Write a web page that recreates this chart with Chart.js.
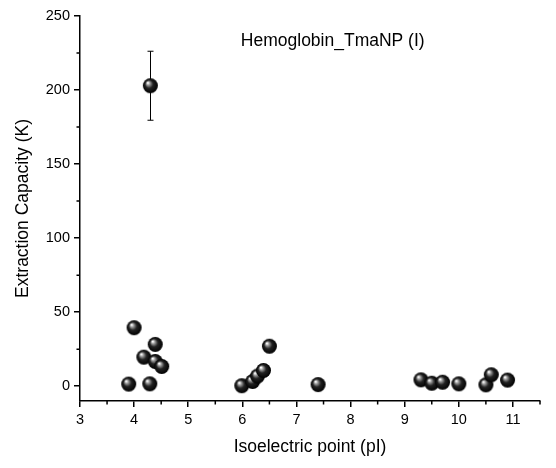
<!DOCTYPE html>
<html>
<head>
<meta charset="utf-8">
<script src="https://cdn.jsdelivr.net/npm/chart.js@4"></script>
<style>
    html, body { margin: 0; padding: 0; background: #fff; }
    #wrap { width: 556px; height: 468px; }
</style>
</head>
<body>
<div id="wrap"><canvas id="pIChart" width="556" height="468"></canvas></div>
<script>
// values
const pI = [4.3, 4.0, 4.39, 4.18, 4.39, 4.51, 3.9, 4.29, 5.99, 6.19, 6.28, 6.39, 6.5, 7.4,
            9.3, 9.5, 9.7, 10.0, 10.5, 10.6, 10.9];
const capacity = [202.9, 39.5, 28.2, 19.6, 16.7, 13.3, 1.4, 1.6, 0.3, 3.2, 6.8, 10.6, 27, 1.1,
                  4.3, 2.0, 2.7, 1.6, 0.9, 7.7, 4.1];
const capacityErr = [23.3, 0, 0, 0, 0, 0, 0, 0, 0, 0, 0, 0, 0, 0,
                     0, 0, 0, 0, 0, 0, 0];
const xTicks = [3, 4, 5, 6, 7, 8, 9, 10, 11];
const yTicks = [0, 50, 100, 150, 200, 250];
const chartLabel = 'Hemoglobin_TmaNP (I)';
const labelAt = { x: 7.67, y: 232.7 };

const fontName = '"Liberation Sans", Arial, sans-serif';

// shaded ball marker
function makeBall(r) {
    const c = document.createElement('canvas');
    c.width = c.height = Math.ceil(r * 2) + 2;
    const g = c.getContext('2d');
    const cx = c.width / 2, cy = c.height / 2;
    const grad = g.createRadialGradient(cx - r * 0.35, cy - r * 0.4, 0.5, cx, cy, r);
    grad.addColorStop(0, '#ffffff');
    grad.addColorStop(0.18, '#a0a0a0');
    grad.addColorStop(0.5, '#222222');
    grad.addColorStop(1, '#000000');
    g.fillStyle = grad;
    g.beginPath();
    g.arc(cx, cy, r, 0, Math.PI * 2);
    g.fill();
    return c;
}
const ball = makeBall(7.5);

const errorBars = {
    id: 'errorBars',
    beforeDatasetsDraw(chart) {
        const ctx = chart.ctx;
        const xs = chart.scales.x, ys = chart.scales.y;
        ctx.save();
        ctx.strokeStyle = '#000';
        ctx.lineWidth = 1;
        pI.forEach((v, i) => {
            if (!capacityErr[i]) return;
            const px = Math.round(xs.getPixelForValue(v)) + 0.5;
            const top = ys.getPixelForValue(capacity[i] + capacityErr[i]);
            const bot = ys.getPixelForValue(capacity[i] - capacityErr[i]);
            ctx.beginPath();
            ctx.moveTo(px, top); ctx.lineTo(px, bot);
            ctx.moveTo(px - 3, top); ctx.lineTo(px + 3, top);
            ctx.moveTo(px - 3, bot); ctx.lineTo(px + 3, bot);
            ctx.stroke();
        });
        ctx.restore();
    }
};

const minorTicks = {
    id: 'minorTicks',
    afterDraw(chart) {
        const ctx = chart.ctx;
        const xs = chart.scales.x, ys = chart.scales.y;
        ctx.save();
        ctx.strokeStyle = '#000';
        ctx.lineWidth = 1.5;
        ctx.beginPath();
        for (let v = 3.5; v <= 11.5; v += 1) {
            const px = xs.getPixelForValue(v);
            ctx.moveTo(px, xs.top); ctx.lineTo(px, xs.top + 3.5);
        }
        for (let v = 25; v < 250; v += 50) {
            const py = ys.getPixelForValue(v);
            ctx.moveTo(ys.right, py); ctx.lineTo(ys.right - 3.5, py);
        }
        ctx.stroke();
        ctx.restore();
    }
};

const plotLabel = {
    id: 'plotLabel',
    afterDatasetsDraw(chart) {
        const ctx = chart.ctx;
        ctx.save();
        ctx.font = '17.5px ' + fontName;
        ctx.fillStyle = '#000';
        ctx.textAlign = 'center';
        ctx.textBaseline = 'middle';
        ctx.fillText(chartLabel, chart.scales.x.getPixelForValue(labelAt.x), chart.scales.y.getPixelForValue(labelAt.y));
        ctx.restore();
    }
};

const ctx = document.getElementById('pIChart').getContext('2d');

new Chart(ctx, {
    type: 'scatter',
    data: {
        datasets: [{
            data: pI.map((x, i) => ({ x: x, y: capacity[i] })),
            pointStyle: ball,
            pointRadius: 7.5,
            pointHoverRadius: 7.5
        }]
    },
    options: {
        responsive: false,
        animation: false,
        layout: { padding: { top: 16, right: 16, left: 0, bottom: 0 } },
        scales: {
            x: {
                type: 'linear',
                min: 3,
                max: 11.5,
                afterBuildTicks: s => { s.ticks = xTicks.map(v => ({ value: v })); },
                afterFit: s => { s.height = 67; },
                border: { color: '#000', width: 1.5 },
                grid: { drawOnChartArea: false, drawTicks: true, tickLength: 6, color: '#000', lineWidth: 1.5 },
                ticks: { color: '#000', padding: 4, maxRotation: 0, font: { size: 14.5, family: fontName } },
                title: { display: true, text: 'Isoelectric point (pI)', color: '#000', padding: { top: 4, bottom: 10 }, font: { size: 17.5, family: fontName } }
            },
            y: {
                type: 'linear',
                min: -10,
                max: 250,
                afterBuildTicks: s => { s.ticks = yTicks.map(v => ({ value: v })); },
                afterFit: s => { s.width = 80; },
                border: { color: '#000', width: 1.5 },
                grid: { drawOnChartArea: false, drawTicks: true, tickLength: 6, color: '#000', lineWidth: 1.5 },
                ticks: { color: '#000', padding: 4, font: { size: 14.5, family: fontName } },
                title: { display: true, text: 'Extraction Capacity (K)', color: '#000', padding: { top: 13, bottom: 0 }, font: { size: 17.5, family: fontName } }
            }
        },
        plugins: {
            legend: { display: false },
            tooltip: { enabled: false }
        }
    },
    plugins: [errorBars, minorTicks, plotLabel]
});
</script>
</body>
</html>
